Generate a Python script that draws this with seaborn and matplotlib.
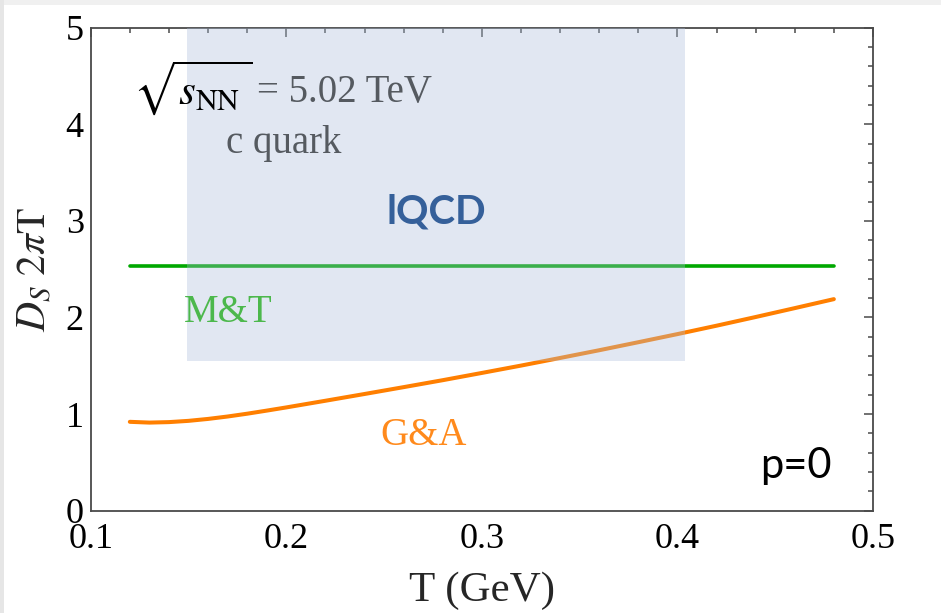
import matplotlib
matplotlib.use("Agg")
import matplotlib.pyplot as plt
from matplotlib.patches import Rectangle
from matplotlib.ticker import MultipleLocator
import numpy as np
import pandas as pd
import seaborn as sns

# G&A spatial diffusion coefficient D_s 2πT versus temperature (p = 0)
ga_T = [0.12, 0.13, 0.14, 0.15, 0.16, 0.17, 0.18, 0.19, 0.20, 0.22, 0.24,
        0.26, 0.28, 0.30, 0.32, 0.34, 0.36, 0.38, 0.40, 0.42, 0.44, 0.46, 0.48]
ga_D = [0.920, 0.912, 0.917, 0.930, 0.950, 0.975, 1.004, 1.036, 1.069, 1.138,
        1.208, 1.279, 1.351, 1.426, 1.502, 1.581, 1.661, 1.744, 1.828, 1.915,
        2.005, 2.097, 2.190]

# M&T constant value
mt_T = [0.12, 0.48]
mt_D = [2.536, 2.536]

# lattice QCD band
lqcd_T = [0.149, 0.404]
lqcd_D = [1.55, 5.0]

xticks = [0.1, 0.2, 0.3, 0.4, 0.5]
yticks = [0, 1, 2, 3, 4, 5]

sns.set_theme(style="white")
plt.rcParams["font.family"] = ["Liberation Serif", "DejaVu Serif"]
plt.rcParams["mathtext.fontset"] = "stix"

fig = plt.figure(figsize=(9.41, 6.13), dpi=100)
fig.patch.set_facecolor("white")
ax = fig.add_axes([0.0964, 0.1669, 0.8313, 0.7879])
ax.set_facecolor("white")

df_ga = pd.DataFrame({"T": ga_T, "D": ga_D})
df_mt = pd.DataFrame({"T": mt_T, "D": mt_D})
sns.lineplot(data=df_mt, x="T", y="D", ax=ax, color="#00a800", lw=2.6, zorder=2)
sns.lineplot(data=df_ga, x="T", y="D", ax=ax, color="#ff7f00", lw=2.9, zorder=2)

ax.fill_between(lqcd_T, lqcd_D[0], lqcd_D[1], color=(169/255, 189/255, 218/255),
                alpha=0.35, lw=0, zorder=3)

ax.set_xlim(0.1, 0.5)
ax.set_ylim(0, 5)
ax.set_xticks(xticks)
ax.set_yticks(yticks)
ax.set_xticklabels([f"{v:.1f}" for v in xticks])
ax.set_yticklabels([str(v) for v in yticks])
ax.xaxis.set_minor_locator(MultipleLocator(0.02))
ax.yaxis.set_minor_locator(MultipleLocator(0.2))
frame = "#4a4a4a"
ax.tick_params(which="both", direction="in", top=True, right=True,
               color=frame, width=1.1)
ax.tick_params(which="major", length=6.5, labelsize=26, pad=5, labelcolor="black")
ax.tick_params(which="minor", length=3.8)
ax.tick_params(axis="x", which="major", pad=9)
ax.tick_params(top=True, right=True, labeltop=False, labelright=False)
for sp in ax.spines.values():
    sp.set_visible(True)
    sp.set_color(frame)
    sp.set_linewidth(1.3)

ax.set_xlabel("T (GeV)", fontsize=31, labelpad=11)
ax.set_ylabel(r"$D_S\ 2\pi\mathrm{T}$", fontsize=30, labelpad=8)

grey = "#555a60"
ax.text(0.1215, 4.215, r"$\sqrt{s_{\mathrm{NN}}\,}$", fontsize=31, color="black",
        ha="left", va="baseline", zorder=5)
ax.text(0.1849, 4.235, "= 5.02 TeV", fontsize=28, color=grey,
        ha="left", va="baseline", zorder=5)
ax.text(0.1985, 3.70, "c quark", fontsize=28, color=grey,
        ha="center", va="baseline", zorder=5)
ax.text(0.2765, 2.978, "lQCD", fontsize=29, color="#35609a", fontweight="bold",
        family=["Lato", "DejaVu Sans"], ha="center", va="baseline", zorder=5)
ax.text(0.1475, 1.957, "M&T", fontsize=28, color="#4cb84c",
        ha="left", va="baseline", zorder=5)
ax.text(0.2479, 0.68, "G&A", fontsize=28, color="#ff8a1c",
        ha="left", va="baseline", zorder=5)
ax.text(0.4422, 0.335, "p=0", fontsize=30, color="black",
        family=["Lato", "DejaVu Sans"], ha="left", va="baseline", zorder=5)

# thin light frame along the top and left edges of the canvas
fig.patches.append(Rectangle((0, 1 - 5 / 613), 1, 5 / 613, transform=fig.transFigure,
                             color="#f0f0f0", lw=0, zorder=0))
fig.patches.append(Rectangle((0, 0), 4 / 941, 1, transform=fig.transFigure,
                             color="#e6e6e6", lw=0, zorder=0))

fig.savefig("out.png", dpi=100)
